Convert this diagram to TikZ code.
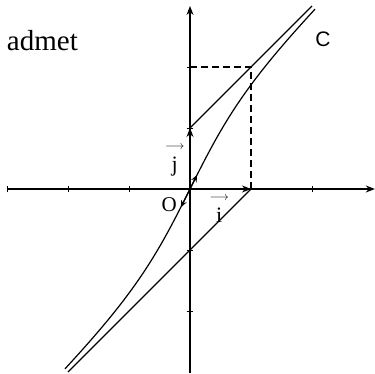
\documentclass[tikz,border=0pt]{standalone}
\usepackage{fontspec}
\setmainfont{Liberation Serif}
\newfontfamily\sansC{Liberation Sans}
\usetikzlibrary{arrows.meta}
\newcommand{\vecarrow}{{\fontsize{13}{13}\selectfont$\longrightarrow$}}
\begin{document}
\begin{tikzpicture}[x=61pt,y=61pt,
  ln/.style={line width=1.2pt},
  tip/.style={-{Stealth[length=9pt,width=7pt]}},
  tk/.style={line width=1pt},
  dsh/.style={line width=1.1pt, dash pattern=on 7pt off 4pt},
  lbl/.style={inner sep=0pt}]
\useasboundingbox (-3.1148,-3.0164) rectangle (3.0328,3.0984);
% axes
\coordinate (xs) at (-3.0,0);
\coordinate (xe) at (3.03,0);
\coordinate (ys) at (0,-3.02);
\coordinate (ye) at (0,3.0);
\coordinate (O) at (0,0);
\draw[ln,tip] (xs) -- (xe);
\draw[ln,tip] (ys) -- (ye);
\foreach \t in {-3,-2,-1,2} \draw[tk] (\t,-0.055) -- (\t,0.055);
\foreach \t in {-2,-1,1,2} \draw[tk] (-0.055,\t) -- (0.055,\t);
% unit vectors
\coordinate (I) at (1,0);
\coordinate (J) at (0,1);
\draw[ln,tip] (O) -- (I);
\draw[ln,tip] (O) -- (J);
% dashed rectangle
\coordinate (Y2) at (0,2);
\coordinate (M) at (1,2);
\draw[dsh] (Y2) -- (M) -- (I);
% asymptote lines
\coordinate (P) at (2,3);
\coordinate (Q) at (-2,-3);
\draw[ln] (J) -- (P);
\draw[ln] (I) -- (Q);
% curve C
\draw[ln] plot[domain=-2.05:2.05, samples=90, smooth] (\x, {\x + \x/sqrt(1+\x*\x)});
% small arrows on the curve at O
\coordinate (U) at (0.115,0.23);
\coordinate (D) at (-0.15,-0.30);
\draw[ln,-{Stealth[length=7pt,width=6pt]}] (O) -- (U);
\draw[ln,-{Stealth[length=7pt,width=6pt]}] (O) -- (D);
% labels
\node[lbl,font=\fontsize{29}{32}\selectfont] (adm) at (-2.42,2.43) {admet};
\node[lbl,font=\sansC\fontsize{21}{24}\selectfont] (cl) at (2.18,2.46) {C};
\node[lbl,font=\fontsize{21}{24}\selectfont] (ol) at (-0.34,-0.26) {O};
\node[lbl,font=\fontsize{22}{24}\selectfont,align=center] (jl) at (-0.25,0.46)
  {\vecarrow\\[-2pt]j};
\node[lbl,font=\fontsize{22}{24}\selectfont,align=center] (il) at (0.48,-0.34)
  {\vecarrow\\[-2pt]i};
\end{tikzpicture}
\end{document}
